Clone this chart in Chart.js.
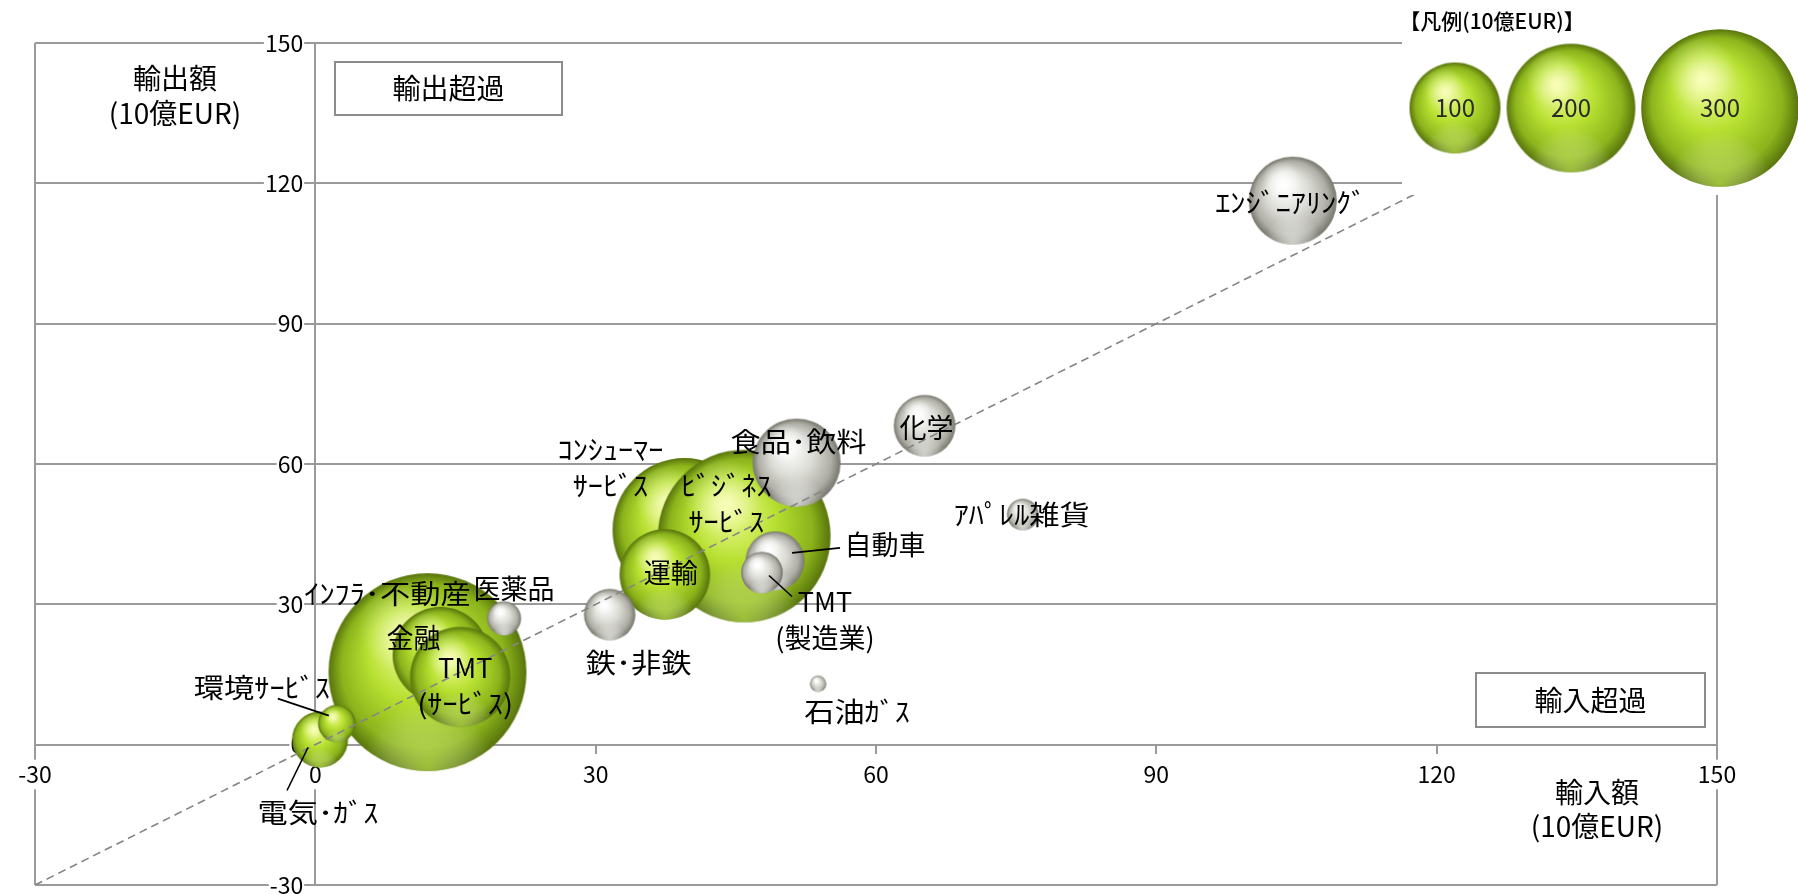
<!DOCTYPE html>
<html lang="ja">
<head>
<meta charset="utf-8">
<title>輸出額と輸入額</title>
<script src="https://cdn.jsdelivr.net/npm/chart.js@4.4.1/dist/chart.umd.min.js"></script>
<style>
  html, body { margin: 0; padding: 0; background: #fff; }
  #wrap { width: 1798px; height: 894px; }
</style>
</head>
<body>
<div id="wrap"><canvas id="chart" width="1798" height="894"></canvas></div>
<script>
// サービス業（緑の球）: x = 輸入額, y = 輸出額, size = 球の大きさ（10億EUR）
const serviceNames = ['ｺﾝｼｭｰﾏｰ\nｻｰﾋﾞｽ', 'ﾋﾞｼﾞﾈｽ\nｻｰﾋﾞｽ', '運輸', 'ｲﾝﾌﾗ･不動産', '金融', 'TMT\n(ｻｰﾋﾞｽ)', '電気･ｶﾞｽ', '環境ｻｰﾋﾞｽ'];
const serviceImport = [39.5, 45.9, 37.4, 12.0, 13.4, 15.5, 0.5, 2.3];
const serviceExport = [45.9, 44.6, 36.4, 15.5, 19.2, 14.5, 1.1, 4.5];
const serviceSize = [250, 360, 99, 473, 111, 121, 38, 17];

// 製造業（灰色の球）
const makerNames = ['食品･飲料', '自動車', 'TMT\n(製造業)', 'ｴﾝｼﾞﾆｱﾘﾝｸﾞ', '化学', '鉄･非鉄', '医薬品', 'ｱﾊﾟﾚﾙ雑貨', '石油ｶﾞｽ'];
const makerImport = [51.5, 49.2, 47.8, 104.6, 65.2, 31.5, 20.2, 75.7, 53.8];
const makerExport = [60.3, 39.3, 36.8, 116.3, 68.2, 27.8, 27.0, 49.2, 13.0];
const makerSize = [93.5, 42, 21, 93.5, 46, 32, 14, 12, 3.3];

const legendSizes = [100, 200, 300];
const axisTicks = [-30, 0, 30, 60, 90, 120, 150];
const balanceLine = [-30, 150]; // 輸出額 = 輸入額

// ラベルの位置（球の中心からのずれ, px）と引き出し線
const serviceLabelPos = [[-74, -80], [-18, -50], [6, -2], [-40, -78], [-27, -17], [5, -9], [-2, 73], [-75, -36]];
const serviceLeaders = [null, null, null, null, null, null, [-12, 8, -33, 51], [-8, -8, -59, -25]];
const makerLabelPos = [[2, -21], [110, -16], [63, 29], [-2, 2], [2, 2], [29, 48], [10, -30], [-1, 0], [39, 28]];
const makerLeaders = [null, [17, -8, 65, -13], [7, 3, 30, 24], null, null, null, null, null, null];

const GRID = '#9a9a9a';
const FONT = '"Noto Sans CJK JP", "Noto Sans", sans-serif';
Chart.defaults.font.family = FONT;

function font(size, weight) {
  return (weight || 'normal') + ' ' + size + 'px ' + FONT;
}

function radiusOf(size) {
  return 4.55 * Math.sqrt(size);
}

// 球の画像（pointStyle に使う）
const PALETTE = {
  green: { hi: '#f2fc9c', mid: '#b8e132', low: '#8cb41c', edge: '#58740c', glow: 'rgba(205,242,90,0.55)', spec: 'rgba(255,255,210,0.5)' },
  gray: { hi: '#ffffff', mid: '#deded8', low: '#aeaea6', edge: '#76766d', glow: 'rgba(240,240,236,0.7)', spec: 'rgba(255,255,255,0.85)' },
};
const sphereCache = {};
function sphere(r, kind) {
  const key = kind + r.toFixed(2);
  if (sphereCache[key]) return sphereCache[key];
  const s = Math.ceil(r * 2) + 2;
  const c = document.createElement('canvas');
  c.width = s;
  c.height = s;
  const g = c.getContext('2d');
  const cx = s / 2, cy = s / 2;
  const p = PALETTE[kind];
  let gr = g.createRadialGradient(cx - r * 0.22, cy - r * 0.35, r * 0.05, cx, cy, r);
  gr.addColorStop(0, p.hi);
  gr.addColorStop(0.45, p.mid);
  gr.addColorStop(0.82, p.low);
  gr.addColorStop(1, p.edge);
  g.beginPath();
  g.arc(cx, cy, r, 0, Math.PI * 2);
  g.fillStyle = gr;
  g.fill();
  g.save();
  g.clip();
  gr = g.createRadialGradient(cx, cy + r * 0.95, 0, cx, cy + r * 0.95, r * 0.65);
  gr.addColorStop(0, p.glow);
  gr.addColorStop(1, 'rgba(255,255,255,0)');
  g.fillStyle = gr;
  g.fillRect(0, 0, s, s);
  gr = g.createRadialGradient(cx - r * 0.25, cy - r * 0.45, 0, cx - r * 0.25, cy - r * 0.45, r * 0.45);
  gr.addColorStop(0, p.spec);
  gr.addColorStop(1, 'rgba(255,255,255,0)');
  g.fillStyle = gr;
  g.fillRect(0, 0, s, s);
  g.restore();
  sphereCache[key] = c;
  return c;
}

// 半角カナは元の図のように少し横長に描く
function drawLines(ctx, text, x, y, lh) {
  text.split('\n').forEach((line, i) => {
    const sx = /[\uFF61-\uFF9F]/.test(line) ? 1.12 : 1;
    ctx.save();
    ctx.translate(x, y + i * lh);
    ctx.scale(sx, 1);
    ctx.fillText(line, 0, 0);
    ctx.restore();
  });
}

function drawBox(ctx, x1, y1, x2, y2, text) {
  ctx.fillStyle = '#fff';
  ctx.fillRect(x1, y1, x2 - x1, y2 - y1);
  ctx.strokeStyle = '#8c8c8c';
  ctx.lineWidth = 2;
  ctx.strokeRect(x1, y1, x2 - x1, y2 - y1);
  ctx.fillStyle = '#000';
  ctx.font = font(28);
  ctx.fillText(text, (x1 + x2) / 2, (y1 + y2) / 2);
}

const overlay = {
  id: 'overlay',
  afterDatasetsDraw(chart) {
    const ctx = chart.ctx;
    ctx.save();
    // 凡例
    ctx.fillStyle = '#fff';
    ctx.fillRect(1402, 0, chart.width - 1402, 195);
    ctx.textAlign = 'center';
    ctx.textBaseline = 'middle';
    ctx.fillStyle = '#000';
    ctx.font = font(21, '500');
    ctx.fillText('【凡例(10億EUR)】', 1492, 21);
    const lx = [1455, 1571, 1720];
    legendSizes.forEach((v, i) => {
      const img = sphere(radiusOf(v), 'green');
      ctx.drawImage(img, lx[i] - img.width / 2, 108 - img.height / 2);
      ctx.fillStyle = '#2a2a2a';
      ctx.font = font(24);
      ctx.fillText(String(v), lx[i], 108);
    });
    ctx.restore();
  },
  afterDraw(chart) {
    const ctx = chart.ctx;
    ctx.save();
    ctx.textAlign = 'center';
    ctx.textBaseline = 'middle';

    const groups = [
      [0, serviceNames, serviceLabelPos, serviceLeaders],
      [1, makerNames, makerLabelPos, makerLeaders],
    ];
    groups.forEach(([ds, names, pos, leaders]) => {
      chart.getDatasetMeta(ds).data.forEach((pt, i) => {
        if (leaders[i]) {
          const [a, b, c, d] = leaders[i];
          ctx.strokeStyle = '#000';
          ctx.lineWidth = 1.6;
          ctx.beginPath();
          ctx.moveTo(pt.x + a, pt.y + b);
          ctx.lineTo(pt.x + c, pt.y + d);
          ctx.stroke();
        }
        ctx.fillStyle = '#000';
        ctx.font = font(27);
        drawLines(ctx, names[i], pt.x + pos[i][0], pt.y + pos[i][1], 36);
      });
    });

    // 軸タイトル
    ctx.fillStyle = '#000';
    ctx.font = font(28);
    drawLines(ctx, '輸出額\n(10億EUR)', 175, 78, 35);
    drawLines(ctx, '輸入額\n(10億EUR)', 1597, 792, 34);

    drawBox(ctx, 335, 62, 562, 115, '輸出超過');
    drawBox(ctx, 1476, 673, 1705, 727, '輸入超過');
    ctx.restore();
  },
};

function fixTicks(scale) {
  scale.ticks = axisTicks.map(v => ({ value: v }));
}
function noPadding(scale) {
  scale.paddingTop = 0;
  scale.paddingBottom = 0;
  scale.paddingLeft = 0;
  scale.paddingRight = 0;
}

function draw() {
  const ctx = document.getElementById('chart').getContext('2d');
  new Chart(ctx, {
    type: 'bubble',
    data: {
      datasets: [
        {
          label: 'サービス',
          order: 2,
          data: serviceImport.map((x, i) => ({ x, y: serviceExport[i], r: radiusOf(serviceSize[i]) })),
          pointStyle: (c) => (c.raw ? sphere(c.raw.r, 'green') : 'circle'),
          backgroundColor: 'rgba(0,0,0,0)',
          borderWidth: 0,
        },
        {
          label: '製造業',
          order: 1,
          data: makerImport.map((x, i) => ({ x, y: makerExport[i], r: radiusOf(makerSize[i]) })),
          pointStyle: (c) => (c.raw ? sphere(c.raw.r, 'gray') : 'circle'),
          backgroundColor: 'rgba(0,0,0,0)',
          borderWidth: 0,
        },
        {
          type: 'line',
          label: '輸出額=輸入額',
          order: 0,
          data: balanceLine.map(v => ({ x: v, y: v })),
          borderColor: '#858585',
          borderWidth: 1.6,
          borderDash: [8, 5],
          pointRadius: 0,
          fill: false,
        },
      ],
    },
    options: {
      responsive: false,
      animation: false,
      events: [],
      layout: { autoPadding: false, padding: { left: 35, right: 81, top: 43, bottom: 9 } },
      plugins: {
        legend: { display: false },
        tooltip: { enabled: false },
      },
      scales: {
        x: {
          type: 'linear',
          min: -30,
          max: 150,
          position: { y: 0 },
          afterBuildTicks: fixTicks,
          afterFit: noPadding,
          ticks: {
            color: '#000',
            font: { size: 23 },
            padding: 8,
            showLabelBackdrop: true,
            backdropColor: '#fff',
            backdropPadding: 1,
          },
          grid: {
            // 外枠（-30, 150）と縦軸（0）の線だけ描く
            color: (c) => (c.tick && [-30, 0, 150].includes(c.tick.value) ? GRID : 'rgba(0,0,0,0)'),
            lineWidth: 2,
            tickColor: GRID,
            tickLength: 8,
          },
          border: { display: true, color: GRID, width: 2 },
        },
        y: {
          type: 'linear',
          min: -30,
          max: 150,
          position: { x: -1.3 },
          afterBuildTicks: fixTicks,
          afterFit: noPadding,
          ticks: {
            color: '#000',
            font: { size: 23 },
            padding: 10,
            showLabelBackdrop: true,
            backdropColor: '#fff',
            backdropPadding: 1,
          },
          grid: { color: GRID, lineWidth: 2, drawTicks: false },
          border: { display: false },
        },
      },
    },
    plugins: [overlay],
  });
}

document.fonts.load(font(26)).then(draw, draw);
</script>
</body>
</html>
